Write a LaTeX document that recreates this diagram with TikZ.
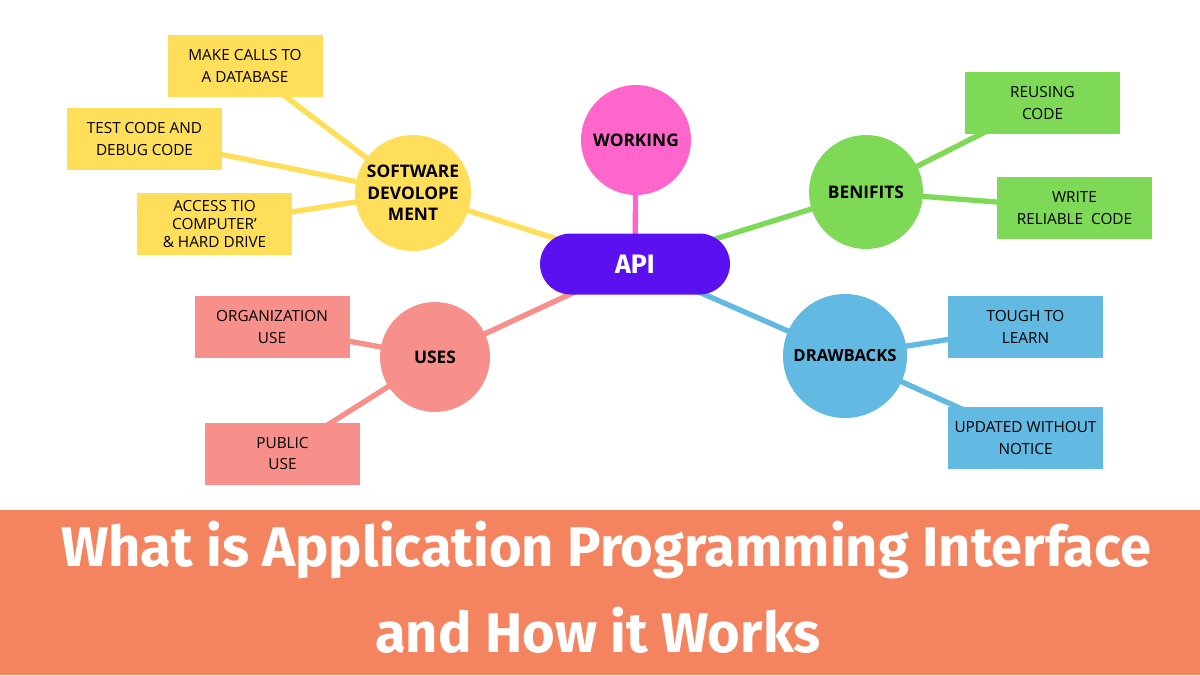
\documentclass[tikz,border=0pt]{standalone}
\usepackage{fontspec}
\setmainfont{Open Sans}
\newfontfamily\titlefont{Fira Sans}
\usetikzlibrary{backgrounds}
\definecolor{band}{HTML}{F4845F}
\definecolor{apic}{HTML}{5B10F0}
\definecolor{pinkc}{HTML}{FF66CC}
\definecolor{yelc}{HTML}{FFDE59}
\definecolor{salc}{HTML}{F78F8A}
\definecolor{grnc}{HTML}{7ED957}
\definecolor{bluc}{HTML}{62B9E2}
\begin{document}
\begin{tikzpicture}[x=0.75pt,y=-0.75pt,
  leaf/.style={fill=#1,minimum width=116.25pt,minimum height=46.5pt,inner sep=0pt,align=center,font=\fontsize{11.5}{16}\selectfont},
  hubf/.style={circle,fill=#1,inner sep=0pt,align=center,font=\fontseries{eb}\selectfont\bfseries\fontsize{13}{16}\selectfont},
  con/.style={draw=#1,line width=4pt}]
\useasboundingbox (0,0) rectangle (1200,675);
\fill[band] (0,510) rectangle (1200,675);
\node[text=white,font=\titlefont\bfseries\fontsize{42}{44}\selectfont] (t1) at (606,550) {What is Application Programming Interface};
\node[text=white,font=\titlefont\bfseries\fontsize{42}{44}\selectfont] (t2) at (598,630) {and How it Works};
% leaves
\node[leaf=yelc] (y1) at (245,66) {MAKE CALLS TO\\A DATABASE};
\node[leaf=yelc] (y2) at (144.5,139) {TEST CODE AND\\DEBUG CODE};
\node[leaf=yelc,font=\fontsize{11.5}{13.5}\selectfont] (y3) at (214.5,224) {ACCESS TIO\\COMPUTER'\\\& HARD DRIVE};
\node[leaf=salc] (s1) at (272,327) {ORGANIZATION\\USE};
\node[leaf=salc] (s2) at (282.5,453.5) {PUBLIC\\USE};
\node[leaf=grnc] (g1) at (1042.5,103) {REUSING\\CODE};
\node[leaf=grnc] (g2) at (1074.5,208) {WRITE\\RELIABLE\ \ CODE};
\node[leaf=bluc] (b1) at (1025.5,327) {TOUGH TO\\LEARN};
\node[leaf=bluc] (b2) at (1025.5,438) {UPDATED WITHOUT\\NOTICE};
% hubs
\node[hubf=pinkc,minimum size=82.5pt] (work) at (636,140) {WORKING};
\node[hubf=yelc,minimum size=87pt] (soft) at (413,193) {SOFTWARE\\DEVOLOPE\\MENT};
\node[hubf=salc,minimum size=82.5pt] (uses) at (435,357) {USES};
\node[hubf=grnc,minimum size=85.5pt] (ben) at (866,192) {BENIFITS};
\node[hubf=bluc,minimum size=93pt,font=\bfseries\fontsize{12.5}{15}\selectfont] (drw) at (845,356) {DRAWBACKS};
\node[rounded corners=23pt,fill=apic,minimum width=142.5pt,minimum height=45.75pt,text=white,font=\titlefont\bfseries\fontsize{20}{22}\selectfont] (api) at (635,264) {API};
% connectors
\begin{scope}[on background layer]
\draw[con=pinkc] (work.center) -- (api.center);
\draw[con=yelc] (soft.center) -- (api.center);
\draw[con=salc] (uses.center) -- (api.center);
\draw[con=grnc] (ben.center) -- (api.center);
\draw[con=bluc] (drw.center) -- (api.center);
\draw[con=yelc] (y1.center) -- (soft.center);
\draw[con=yelc] (y2.center) -- (soft.center);
\draw[con=yelc] (y3.center) -- (soft.center);
\draw[con=salc] (s1.center) -- (uses.center);
\draw[con=salc] (s2.center) -- (uses.center);
\draw[con=grnc] (g1.center) -- (ben.center);
\draw[con=grnc] (g2.center) -- (ben.center);
\draw[con=bluc] (b1.center) -- (drw.center);
\draw[con=bluc] (b2.center) -- (drw.center);
\end{scope}
\end{tikzpicture}
\end{document}
